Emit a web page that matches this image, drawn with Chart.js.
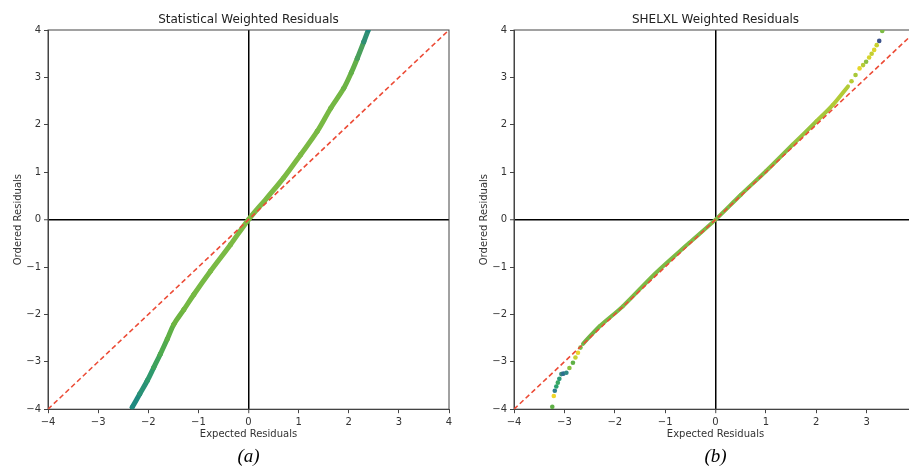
<!DOCTYPE html>
<html>
<head>
<meta charset="utf-8">
<script src="https://cdn.jsdelivr.net/npm/chart.js@4/dist/chart.umd.min.js"></script>
<style>
  html, body { margin: 0; padding: 0; background: #fff; overflow: hidden; width: 909px; height: 468px; }
  canvas { position: absolute; top: 0; }
  #statChart { left: 0; }
  #shelxChart { left: 466px; }
</style>
</head>
<body>
<canvas id="statChart" width="460" height="468"></canvas>
<canvas id="shelxChart" width="462" height="468"></canvas>
<script>
// axis ticks (both panels)
tickValues = [-4, -3, -2, -1, 0, 1, 2, 3, 4];

// reference line y = x
idealX = [-4, 4];
idealY = [-4, 4];

// (a) statistical weighted residuals
statX = [-2.32, -2.17, -2.02, -1.89, -1.76, -1.62, -1.49, -1.29, -1.09, -0.76, -0.36, 0.00, 0.37, 0.70, 1.04, 1.37, 1.64, 1.90, 2.05, 2.17, 2.30, 2.39];
statY = [-3.96, -3.68, -3.40, -3.12, -2.84, -2.52, -2.21, -1.90, -1.58, -1.09, -0.53, 0.00, 0.46, 0.88, 1.37, 1.86, 2.35, 2.77, 3.10, 3.40, 3.75, 4.00];

// (b) SHELXL weighted residuals - continuous middle part
shelxX = [-2.63, -2.30, -1.84, -1.18, -0.52, 0.00, 0.50, 1.00, 1.53, 2.00, 2.33, 2.63];
shelxY = [-2.62, -2.25, -1.83, -1.12, -0.49, 0.00, 0.52, 1.02, 1.58, 2.07, 2.42, 2.81];

// (b) tails, drawn as separate dots
tailX = [-3.24, -3.21, -3.19, -3.16, -3.13, -3.10, -3.06, -3.02, -2.96, -2.90, -2.83, -2.78, -2.73, -2.68,
         2.70, 2.78, 2.86, 2.93, 2.99, 3.05, 3.10, 3.15, 3.20, 3.25, 3.31];
tailY = [-3.95, -3.72, -3.61, -3.52, -3.44, -3.36, -3.26, -3.25, -3.23, -3.13, -3.02, -2.91, -2.81, -2.70,
         2.92, 3.05, 3.19, 3.26, 3.33, 3.42, 3.50, 3.58, 3.68, 3.77, 3.98];

// colours (viridis-ish) per point
statColors = ['#1f8a80', '#2a9276', '#2f9a6e', '#3fa35c', '#4fab4f', '#5fb046', '#6db441', '#74b843', '#76b944', '#7aba44', '#7cba44', '#7cba44',
              '#7cba44', '#7cba44', '#7ab944', '#78b944', '#74b744', '#6cb345', '#62af48', '#4aa05c', '#2f8f74', '#22847f'];
shelxColors = ['#5fae4a', '#6fb544', '#78b944', '#7cbb45', '#7cbb45', '#7cbb45', '#7cbb45', '#7fbc44', '#86be42', '#96c33e', '#a6c83a', '#b2cb36'];
tailColors = ['#5fb046', '#f0d62a', '#2f7d8e', '#28a070', '#3aa862', '#2a9a78', '#3a8a7a', '#2c6d8f', '#2f8a86', '#8cc03e', '#5fb046', '#c8d030', '#e8d52c', '#7cbb45',
              '#b8cc34', '#a8c838', '#e6d62a', '#b4cb36', '#8cc040', '#d6d42c', '#c2ce32', '#dcd52c', '#c8d030', '#3b528b', '#7cbb45'];

function points(xs, ys) {
    return xs.map((x, i) => ({ x: x, y: ys[i] }));
}

function minusSign(v) {
    return String(v).replace('-', '\u2212');
}

const frame = {
    id: 'frame',
    beforeDatasetsDraw(chart) {
        const a = chart.chartArea;
        const ctx = chart.ctx;
        ctx.save();
        ctx.strokeStyle = '#444';
        ctx.lineWidth = 1;
        ctx.strokeRect(a.left, a.top, a.right - a.left, a.bottom - a.top);
        ctx.restore();
    }
};

function axis(title, horizontal) {
    return {
        type: 'linear',
        min: -4,
        max: 4,
        afterBuildTicks: (s) => { s.ticks = tickValues.map(v => ({ value: v })); },
        afterFit: (s) => { if (horizontal) s.height = 36; else s.width = 48; },
        ticks: { color: '#333', font: { family: 'DejaVu Sans', size: 10 }, padding: 3, callback: minusSign },
        grid: {
            drawOnChartArea: true,
            color: (c) => c.tick && c.tick.value === 0 ? '#000' : 'rgba(0,0,0,0)',
            lineWidth: (c) => c.tick && c.tick.value === 0 ? 1.5 : 1,
            tickColor: '#444',
            tickLength: 4,
            tickWidth: 1
        },
        border: { display: true, color: '#444', width: 1 },
        title: { display: true, text: title, color: '#333', font: { family: 'DejaVu Sans', size: 10 },
                 padding: horizontal ? { top: 0, bottom: 5 } : { top: 12, bottom: 0 } }
    };
}

function drawPanel(id, title, label, datasets) {
    new Chart(document.getElementById(id), {
        type: 'scatter',
        data: { datasets: datasets },
        options: {
            responsive: false,
            animation: false,
            layout: { padding: { left: 0, right: 11, top: 0, bottom: 0 } },
            plugins: {
                legend: { display: false },
                tooltip: { enabled: false },
                title: { display: true, text: title, fullSize: false, color: '#222',
                         font: { family: 'DejaVu Sans', size: 12, weight: 'normal' }, padding: { top: 13, bottom: 2.6 } },
                subtitle: { display: true, text: label, position: 'bottom', fullSize: false, color: '#000',
                            font: { family: 'Liberation Serif', size: 19, style: 'italic' }, padding: { top: 0, bottom: 0 } }
            },
            scales: {
                x: axis('Expected Residuals', true),
                y: axis('Ordered Residuals', false)
            }
        },
        plugins: [frame]
    });
}

function idealLine() {
    return {
        data: points(idealX, idealY),
        showLine: true,
        borderColor: '#ec4b36',
        borderWidth: 1.6,
        borderDash: [5, 3],
        pointRadius: 0
    };
}

drawPanel('statChart', 'Statistical Weighted Residuals', '(a)', [
    idealLine(),
    {
        data: points(statX, statY),
        showLine: true,
        tension: 0.35,
        borderWidth: 5,
        borderCapStyle: 'round',
        segment: { borderColor: (c) => statColors[c.p0DataIndex] },
        pointRadius: 2.4,
        pointBorderWidth: 0,
        pointBackgroundColor: statColors
    }
]);

drawPanel('shelxChart', 'SHELXL Weighted Residuals', '(b)', [
    idealLine(),
    {
        data: points(tailX, tailY),
        pointRadius: 2.3,
        pointBorderWidth: 0,
        pointBackgroundColor: tailColors
    },
    {
        data: points(shelxX, shelxY),
        showLine: true,
        tension: 0.3,
        borderWidth: 4,
        borderCapStyle: 'round',
        segment: { borderColor: (c) => shelxColors[c.p1DataIndex] },
        pointRadius: 0
    }
]);
</script>
</body>
</html>
